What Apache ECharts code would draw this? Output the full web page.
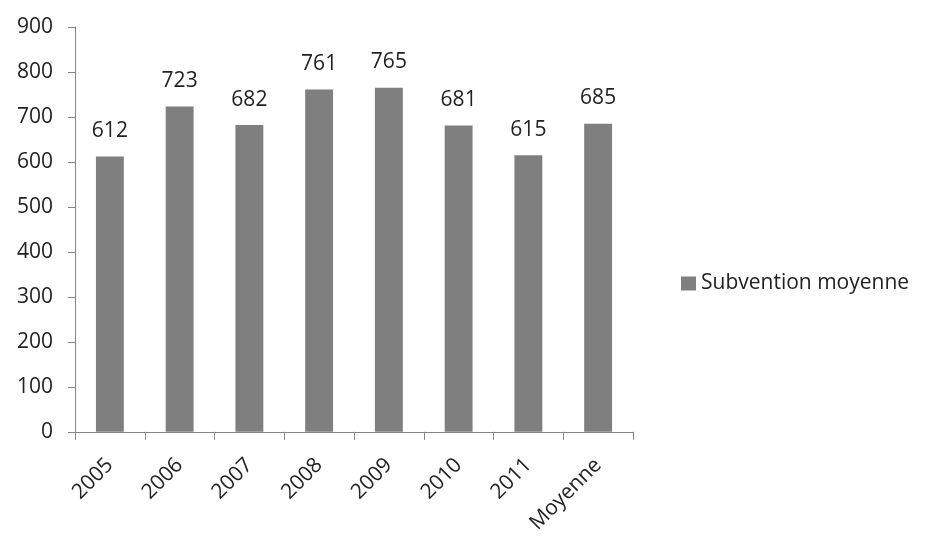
<!DOCTYPE html>
<html>
<head>
<meta charset="utf-8">
<script src="https://cdn.jsdelivr.net/npm/echarts@6/dist/echarts.min.js"></script>
<style>
html,body{margin:0;padding:0;background:#fff;}
#chart{width:930px;height:536px;}
</style>
</head>
<body>
<div id="chart"></div>
<script>
//数据
var categories = ['2005','2006','2007','2008','2009','2010','2011','Moyenne'];
var values = [612,723,682,761,765,681,615,685];
var seriesName = 'Subvention moyenne';
var yTicks = {min:0, max:900, interval:100};

var myChart = echarts.init(document.getElementById('chart'));
var fontFam = 'Open Sans';
myChart.setOption({
    animation:false,
    legend:{
        data:[seriesName],
        left:676,
        top:268,
        itemWidth:15,
        itemHeight:14,
        itemGap:6,
        icon:'rect',
        textStyle:{fontSize:21,color:'#222',fontFamily:fontFam}
    },
    grid:{left:75,right:297,top:27,bottom:104,containLabel:false},
    xAxis:[{
        type:'category',
        data:categories,
        axisLine:{lineStyle:{color:'#868686',width:1}},
        axisTick:{show:true,length:8,lineStyle:{color:'#868686'}},
        axisLabel:{
            rotate:45,
            fontSize:21,
            color:'#222',
            fontFamily:fontFam,
            margin:30,
            interval:0
        }
    }],
    yAxis:[{
        type:'value',
        min:yTicks.min,
        max:yTicks.max,
        interval:yTicks.interval,
        axisLine:{show:true,lineStyle:{color:'#868686'}},
        axisTick:{show:true,length:7,lineStyle:{color:'#868686'}},
        splitLine:{show:false},
        axisLabel:{fontSize:21,color:'#222',fontFamily:fontFam,margin:22}
    }],
    series:[{
        name:seriesName,
        type:'bar',
        data:values,
        barWidth:'40%',
        itemStyle:{color:'#7f7f7f'},
        label:{
            show:true,
            position:'top',
            distance:15,
            fontSize:21,
            color:'#222',
            fontFamily:fontFam
        }
    }]
});
</script>
</body>
</html>
